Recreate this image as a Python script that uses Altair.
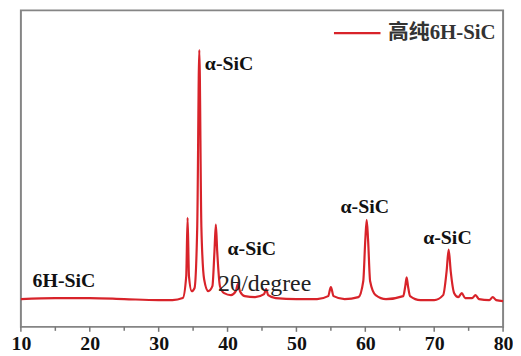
import altair as alt
import pandas as pd

# XRD pattern (2theta, intensity a.u.)
two_theta = [10, 15, 20, 25, 30, 32, 33.5, 34.0, 34.2, 34.4, 34.8, 35.2, 35.6, 35.9, 36.2, 36.6,
             37.2, 37.8, 38.1, 38.3, 38.5, 38.9, 39.5, 40.5, 41.2, 41.5, 41.8, 42.5, 44, 45.3, 45.6,
             45.9, 47, 50, 53, 54.6, 55, 55.4, 57, 59, 59.7, 60.0, 60.2, 60.4, 60.7, 61.5, 63,
             65.5, 65.8, 66.0, 66.2, 66.5, 68, 70, 71.3, 71.8, 72.1, 72.4, 72.9, 73.5, 74.0, 74.5,
             75.5, 76.0, 76.5, 78, 78.5, 79, 80]
intensity = [28, 29, 29, 28, 27, 27, 29, 51, 110, 51, 36, 39, 101, 279, 101, 48,
             36, 41, 76, 103, 76, 41, 34, 32, 36, 43, 36, 31, 30, 33, 38,
             32, 29, 28, 28, 31, 40, 31, 28, 30, 46, 88, 108, 88, 46, 32, 28,
             31, 41, 50, 41, 31, 27, 27, 32, 56, 78, 56, 34, 30, 34, 29,
             29, 32, 28, 27, 30, 27, 26]
series_name = "高纯6H-SiC"

label_text = ["α-SiC", "6H-SiC", "α-SiC", "2θ/degree", "α-SiC", "α-SiC"]
label_x = [36.7, 11.7, 40.0, 38.6, 56.4, 68.4]
label_y = [265, 46, 78, 43, 121, 90]
label_bold = [True, True, True, False, True, True]

major_ticks = [10, 20, 30, 40, 50, 60, 70, 80]
minor_ticks = [15, 25, 35, 45, 55, 65, 75]

SERIF = "Liberation Serif, Noto Sans CJK SC"
RED = "#d8232a"

df = pd.DataFrame({"x": two_theta, "y": intensity, "s": [series_name] * len(two_theta)})
labels = pd.DataFrame({"t": label_text, "x": label_x, "y": label_y, "b": label_bold})

xs = alt.Scale(domain=[10, 80], nice=False, zero=False)
ys = alt.Scale(domain=[0, 319], nice=False, zero=True)

line = alt.Chart(df).mark_line(strokeWidth=2.2, interpolate="monotone").encode(
    x=alt.X("x:Q", scale=xs, axis=alt.Axis(values=major_ticks, title=None, domain=False, ticks=False,
                                             grid=False, labelFont="Liberation Serif", labelFontSize=20,
                                             labelFontWeight="bold", labelColor="#111", labelPadding=7,
                                             labelFlush=False, format="d")),
    y=alt.Y("y:Q", scale=ys, axis=None),
    color=alt.Color("s:N", scale=alt.Scale(range=[RED]),
                    legend=alt.Legend(title=None, orient="none", legendX=314, legendY=-2,
                                      symbolType="stroke", symbolSize=2200, symbolStrokeWidth=2.2,
                                      labelFont=SERIF, labelFontSize=21, labelFontWeight="bold",
                                      labelColor="#333", labelOffset=6)),
)

bold_labels = alt.Chart(labels).transform_filter("datum.b").mark_text(
    align="left", baseline="middle", font="Liberation Serif", fontSize=20, fontWeight="bold", color="#111"
).encode(x=alt.X("x:Q", scale=xs), y=alt.Y("y:Q", scale=ys), text="t:N")

plain_labels = alt.Chart(labels).transform_filter("!datum.b").mark_text(
    align="left", baseline="middle", font="Liberation Serif", fontSize=24, color="#222"
).encode(x=alt.X("x:Q", scale=xs), y=alt.Y("y:Q", scale=ys), text="t:N")

maj = alt.Chart(pd.DataFrame({"x": major_ticks})).mark_rule(color="#777", strokeWidth=1.5).encode(
    x=alt.X("x:Q", scale=xs), y=alt.value(319), y2=alt.value(324))
mnr = alt.Chart(pd.DataFrame({"x": minor_ticks})).mark_rule(color="#777", strokeWidth=1.5).encode(
    x=alt.X("x:Q", scale=xs), y=alt.value(319), y2=alt.value(323))

chart = alt.layer(maj, mnr, line, bold_labels, plain_labels).properties(
    width=486, height=319,
    autosize=alt.AutoSizeParams(type="none"),
    padding={"left": 13, "top": 1, "right": 10, "bottom": 32},
    background="white",
).configure_view(stroke="#858585", strokeWidth=2)

chart.save("out.html", embed_options={"renderer": "svg", "actions": False})
